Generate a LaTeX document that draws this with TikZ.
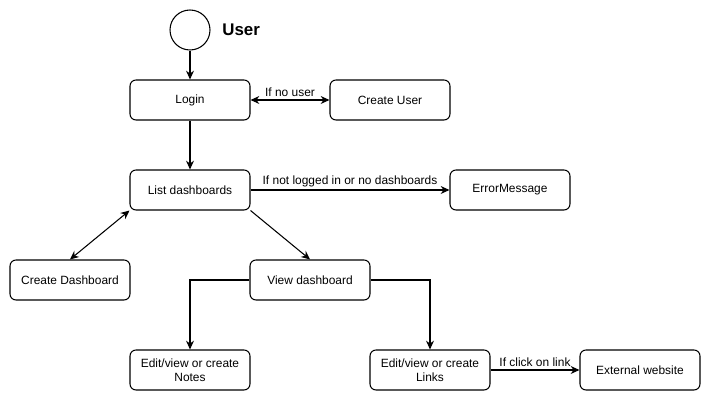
\documentclass[tikz,border=0pt]{standalone}
\usepackage{fontspec}
\setmainfont{Liberation Sans}
\usetikzlibrary{arrows.meta}

\begin{document}
\begin{tikzpicture}[
        x=0.02cm, y=-0.02cm,
        every node/.style={font=\fontsize{6.8}{8.2}\selectfont},
        box/.style={draw, rounded corners=0.12cm, line width=0.6pt, minimum width=2.4cm, minimum height=0.8cm, align=center, inner sep=1pt},
        start/.style={circle, draw, line width=0.6pt, minimum size=0.8cm, inner sep=0pt},
        every path/.style={line width=0.6pt, >={Stealth[length=5pt, width=4.5pt]}},
        lbl/.style={above, inner sep=1.5pt}
    ]
        \useasboundingbox (0, 0) rectangle (711, 401);

        \node[start] (user) at (190, 30) {};
        \node[right, font=\fontsize{9.6}{11}\selectfont\bfseries] (usertxt) at (216, 30) {User};

        \node[box] (login) at (190, 100) {Login};
        \node[box] (cuser) at (390, 100) {Create User};
        \node[box] (list) at (190, 190) {List dashboards};
        \node[box] (err) at (510, 190) {ErrorMessage};
        \node[box] (cdash) at (70, 280) {Create Dashboard};
        \node[box] (view) at (310, 280) {View dashboard};
        \node[box] (notes) at (190, 370) {Edit/view or create\\Notes};
        \node[box] (links) at (430, 370) {Edit/view or create\\Links};
        \node[box] (ext) at (640, 370) {External website};

        \draw[->] (user) -- (login);
        \draw[<->] (login) -- node[lbl] {If no user} (cuser);
        \draw[->] (login) -- (list);
        \draw[->] (list) -- node[lbl] {If not logged in or no dashboards} (err);
        \draw[<->] (list.south west) -- (cdash.north);
        \draw[->] (list.south east) -- (view.north);
        \draw[->] (view.west) -| (notes.north);
        \draw[->] (view.east) -| (links.north);
        \draw[->] (links) -- node[lbl] {If click on link} (ext);
    \end{tikzpicture}
\end{document}
